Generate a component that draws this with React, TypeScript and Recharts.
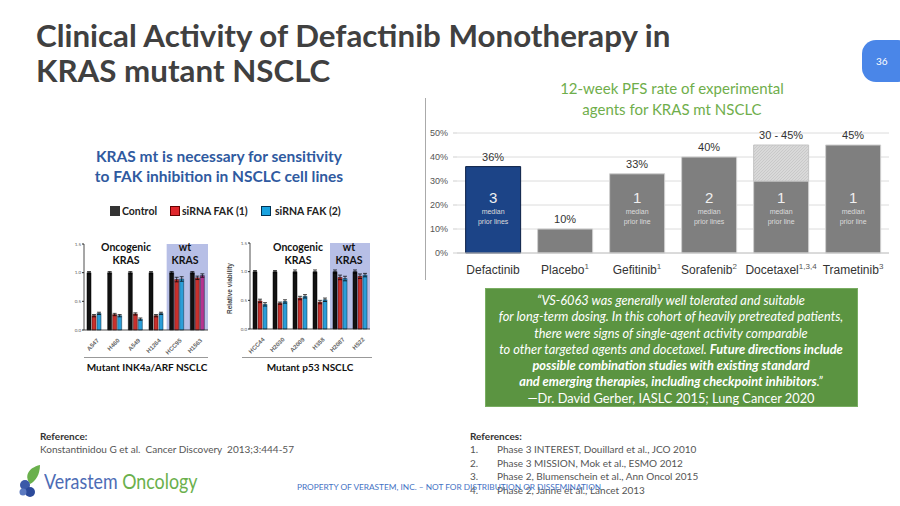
import React from "react";
import {
  BarChart,
  Bar,
  XAxis,
  YAxis,
  CartesianGrid,
  Cell,
  LabelList,
  ErrorBar,
  ReferenceArea,
} from "recharts";

// ---------- Main chart data ----------
const agents = ["Defactinib", "Placebo", "Gefitinib", "Sorafenib", "Docetaxel", "Trametinib"];
const agentRefs = ["", "1", "1", "2", "1,3,4", "3"];
const pfsBase = [36, 10, 33, 40, 30, 45];
const pfsRangeExtra = [0, 0, 0, 0, 15, 0];
const pfsLabels = ["36%", "10%", "33%", "40%", "30 - 45%", "45%"];
const priorLines: (number | null)[] = [3, null, 1, 2, 1, 1];
const pfsTicks = [0, 10, 20, 30, 40, 50];

// ---------- Small charts data ----------
const inkLines = ["A547", "H460", "A549", "H1264", "HCC95", "H1563"];
const inkControl = [1.0, 1.0, 1.0, 1.0, 1.0, 1.0];
const inkSi1 = [0.25, 0.27, 0.28, 0.25, 0.88, 0.91];
const inkSi2 = [0.29, 0.25, 0.19, 0.29, 0.89, 0.95];
const inkErrC = [0.02, 0.02, 0.02, 0.02, 0.02, 0.02];
const inkErr1 = [0.02, 0.02, 0.02, 0.02, 0.04, 0.03];
const inkErr2 = [0.02, 0.02, 0.02, 0.02, 0.04, 0.03];

const p53Lines = ["HCC44", "H2030", "A2009", "H358", "H2087", "H522"];
const p53Control = [1.0, 1.0, 1.0, 1.0, 1.0, 1.0];
const p53Si1 = [0.49, 0.45, 0.54, 0.47, 0.9, 0.92];
const p53Si2 = [0.43, 0.48, 0.57, 0.51, 0.88, 0.94];
const p53ErrC = [0.02, 0.02, 0.03, 0.03, 0.03, 0.03];
const p53Err1 = [0.03, 0.02, 0.03, 0.03, 0.04, 0.04];
const p53Err2 = [0.03, 0.03, 0.03, 0.03, 0.04, 0.03];
const viabilityTicks = [0, 0.5, 1.0, 1.5];

const pfsData = agents.map((a, i) => ({ name: a, base: pfsBase[i], extra: pfsRangeExtra[i] }));
const inkData = inkLines.map((n, i) => ({
  name: n, c: inkControl[i], s1: inkSi1[i], s2: inkSi2[i], ec: inkErrC[i], e1: inkErr1[i], e2: inkErr2[i],
}));
const p53Data = p53Lines.map((n, i) => ({
  name: n, c: p53Control[i], s1: p53Si1[i], s2: p53Si2[i], ec: p53ErrC[i], e1: p53Err1[i], e2: p53Err2[i],
}));

const CAL = "Lato, 'Open Sans', sans-serif";
const ARIAL = "'Liberation Sans', Arial, sans-serif";

const AgentTick = (props: any) => {
  const { x, y, payload, index } = props;
  return (
    <text x={x} y={y + 19} textAnchor="middle" fontSize={12} fill="#333" fontFamily={ARIAL}>
      {payload.value}
      <tspan fontSize={8} dy={-5} fill="#555">{agentRefs[index]}</tspan>
    </text>
  );
};

// top label drawn from the base bar; lifted above the range segment using the bar's own px-per-unit
const TopLabel = (props: any) => {
  const { x, y, width, height, index } = props;
  const pxPerUnit = height / pfsBase[index];
  const top = y - pxPerUnit * pfsRangeExtra[index];
  return (
    <text x={x + width / 2} y={top - 6} textAnchor="middle" fontSize={11} fill="#333" fontFamily={ARIAL}>
      {pfsLabels[index]}
    </text>
  );
};

const InsideLabel = (props: any) => {
  const { x, y, width, height, index } = props;
  const n = priorLines[index];
  if (n == null) return null;
  const cx = x + width / 2;
  const bottom = y + height;
  return (
    <g fontFamily={ARIAL} textAnchor="middle">
      <text x={cx} y={bottom - 50} fontSize={15} fill="#f0f0f0">{n}</text>
      <text x={cx} y={bottom - 39} fontSize={7} fill="#dcdcdc">median</text>
      <text x={cx} y={bottom - 29} fontSize={7} fill="#dcdcdc">{n === 1 ? "prior line" : "prior lines"}</text>
    </g>
  );
};

const CellTick = (props: any) => {
  const { x, y, payload } = props;
  const tx = x + 5;
  const ty = y + 3;
  return (
    <text x={tx} y={ty} transform={`rotate(-45 ${tx} ${ty})`} textAnchor="end" fontSize={6} fontWeight={700} fill="#666" fontFamily={ARIAL}>
      {payload.value}
    </text>
  );
};

const SmallChart = ({ data, left, top, width, lastPurple }: any) => (
  <div style={{ position: "absolute", left, top }}>
    <BarChart width={width} height={134} data={data} margin={{ top: 14, right: 2, left: 0, bottom: 10 }} barSize={4} barGap={1}>
      <ReferenceArea x1={data[4].name} x2={data[5].name} fill="#b7bfe6" fillOpacity={1} stroke="none" ifOverflow="visible" />
      <XAxis dataKey="name" height={24} tick={<CellTick />} tickLine={false} axisLine={{ stroke: "#222", strokeWidth: 0.8 }} interval={0} />
      <YAxis width={24} domain={[0, 1.5]} ticks={viabilityTicks} tickFormatter={(v: number) => v.toFixed(1)} tick={{ fontSize: 4.5, fill: "#555" }} tickSize={2} tickMargin={1} axisLine={{ stroke: "#222", strokeWidth: 0.8 }} tickLine={{ stroke: "#222" }} />
      <Bar dataKey="c" fill="#111" stroke="#000" strokeWidth={0.5} isAnimationActive={false}>
        <ErrorBar dataKey="ec" width={2} stroke="#000" strokeWidth={0.7} />
      </Bar>
      <Bar dataKey="s1" fill="#c9302c" stroke="#3a0a0a" strokeWidth={0.5} isAnimationActive={false}>
        <ErrorBar dataKey="e1" width={2} stroke="#000" strokeWidth={0.7} />
      </Bar>
      <Bar dataKey="s2" fill="#2b9ed8" stroke="#0b2f45" strokeWidth={0.5} isAnimationActive={false}>
        {data.map((_: any, i: number) => (
          <Cell key={i} fill={lastPurple && i === data.length - 1 ? "#b5338f" : "#2b9ed8"} />
        ))}
        <ErrorBar dataKey="e2" width={2} stroke="#000" strokeWidth={0.7} />
      </Bar>
    </BarChart>
  </div>
);

const T = ({ x, y, children, style, w, align }: any) => (
  <div
    style={{
      position: "absolute",
      left: align === "center" ? x - (w || 400) / 2 : x,
      top: y,
      width: align === "center" ? w || 400 : undefined,
      textAlign: align || "left",
      whiteSpace: "nowrap",
      ...style,
    }}
  >
    {children}
  </div>
);

export default function App() {
  return (
    <div style={{ position: "absolute", left: 0, top: 0, width: 900, height: 506, background: "#fff", overflow: "hidden", fontFamily: CAL }}>
      {/* Title */}
      <div style={{ position: "absolute", left: 36, top: 18, fontSize: 31.3, fontWeight: 700, color: "#404040", lineHeight: "35px" }}>
        Clinical Activity of Defactinib Monotherapy in
        <br />
        KRAS mutant NSCLC
      </div>
      {/* page number */}
      <div style={{ position: "absolute", left: 862, top: 40, width: 50, height: 42, borderRadius: 14, background: "#4a86e8" }} />
      <T x={876} y={54} style={{ fontSize: 10, color: "#fff", lineHeight: "14px" }}>36</T>

      {/* Left subheading */}
      <T x={219} y={146} w={340} align="center" style={{ fontSize: 15.5, fontWeight: 700, color: "#2f5aa0", lineHeight: "20px" }}>
        KRAS mt is necessary for sensitivity
        <br />
        to FAK inhibition in NSCLC cell lines
      </T>

      {/* Legend */}
      <div style={{ position: "absolute", left: 110, top: 206, width: 10, height: 10, background: "#333" }} />
      <T x={122} y={204} style={{ fontSize: 10.5, fontWeight: 700, color: "#222", lineHeight: "14px" }}>Control</T>
      <div style={{ position: "absolute", left: 170, top: 206, width: 10, height: 10, background: "#e0262c", border: "0.5px solid #600", boxSizing: "border-box" }} />
      <T x={182} y={204} style={{ fontSize: 10.5, fontWeight: 700, color: "#222", lineHeight: "14px" }}>siRNA FAK (1)</T>
      <div style={{ position: "absolute", left: 261, top: 206, width: 10, height: 10, background: "#1aa3e0", border: "0.5px solid #035", boxSizing: "border-box" }} />
      <T x={275} y={204} style={{ fontSize: 10.5, fontWeight: 700, color: "#222", lineHeight: "14px" }}>siRNA FAK (2)</T>

      {/* Small charts */}
      <SmallChart data={inkData} left={60} top={230} width={150} lastPurple />
      <SmallChart data={p53Data} left={226} top={229} width={146} />

      <T x={126} y={241} w={80} align="center" style={{ fontSize: 10.5, fontWeight: 700, color: "#111", lineHeight: "13px" }}>
        Oncogenic
        <br />
        KRAS
      </T>
      <T x={185} y={241} w={60} align="center" style={{ fontSize: 10.5, fontWeight: 700, color: "#111", lineHeight: "13px" }}>
        wt
        <br />
        KRAS
      </T>
      <T x={298} y={241} w={80} align="center" style={{ fontSize: 10.5, fontWeight: 700, color: "#111", lineHeight: "13px" }}>
        Oncogenic
        <br />
        KRAS
      </T>
      <T x={349} y={241} w={60} align="center" style={{ fontSize: 10.5, fontWeight: 700, color: "#111", lineHeight: "13px" }}>
        wt
        <br />
        KRAS
      </T>
      <div style={{ position: "absolute", left: 222, top: 285, transform: "rotate(-90deg)", transformOrigin: "center", width: 60, marginLeft: -23, textAlign: "center", fontSize: 6.5, fontWeight: 700, color: "#444", fontFamily: ARIAL }}>
        Relative viability
      </div>

      <div style={{ position: "absolute", left: 84, top: 357, width: 124, height: 1, background: "#999" }} />
      <div style={{ position: "absolute", left: 242, top: 357, width: 130, height: 1, background: "#999" }} />
      <T x={147} y={361} w={200} align="center" style={{ fontSize: 10, fontWeight: 700, color: "#111", lineHeight: "13px" }}>Mutant INK4a/ARF NSCLC</T>
      <T x={310} y={361} w={200} align="center" style={{ fontSize: 10, fontWeight: 700, color: "#111", lineHeight: "13px" }}>Mutant p53 NSCLC</T>

      {/* Divider */}
      <div style={{ position: "absolute", left: 425, top: 98, width: 1, height: 182, background: "#aaa" }} />

      {/* Right chart title */}
      <T x={672} y={78} w={360} align="center" style={{ fontSize: 15, color: "#6fae4b", lineHeight: "21px" }}>
        12-week PFS rate of experimental
        <br />
        agents for KRAS mt NSCLC
      </T>

      {/* Main chart */}
      <div style={{ position: "absolute", left: 420, top: 120 }}>
        <BarChart width={475} height={165} data={pfsData} margin={{ top: 13, right: 6, left: 0, bottom: 7 }} barCategoryGap="12%">
          <defs>
            <pattern id="hatch" width="3" height="3" patternUnits="userSpaceOnUse">
              <rect width="3" height="3" fill="#d9d9d9" />
              <path d="M0,3 L3,0" stroke="#c2c2c2" strokeWidth="0.7" />
            </pattern>
          </defs>
          <CartesianGrid vertical={false} stroke="#dcdcdc" />
          <XAxis dataKey="name" height={25} tick={<AgentTick />} tickLine={false} tickSize={0} axisLine={{ stroke: "#c8c8c8" }} interval={0} />
          <YAxis width={37} domain={[0, 50]} ticks={pfsTicks} tickFormatter={(v: number) => `${v}%`} tick={{ fontSize: 9, fill: "#555", fontFamily: ARIAL }} tickSize={4} tickMargin={5} axisLine={false} tickLine={{ stroke: "#cfcfcf" }} />
          <Bar dataKey="base" stackId="pfs" isAnimationActive={false}>
            {pfsData.map((_, i) => (
              <Cell key={i} fill={i === 0 ? "#1c4487" : "#7f7f7f"} stroke={i === 0 ? "#0b1f45" : "#cfcfcf"} strokeWidth={1} />
            ))}
            <LabelList dataKey="base" content={<InsideLabel />} />
            <LabelList dataKey="base" content={<TopLabel />} />
          </Bar>
          <Bar dataKey="extra" stackId="pfs" fill="url(#hatch)" stroke="#c4c4c4" isAnimationActive={false} />
        </BarChart>
      </div>

      {/* Quote box */}
      <div style={{ position: "absolute", left: 485, top: 288, width: 373, height: 119, background: "#5b9441", boxSizing: "border-box", border: "1px solid #79ad62" }} />
      <T x={671} y={292} w={373} align="center" style={{ fontSize: 12.8, color: "#fff", lineHeight: "16.3px", fontStyle: "italic" }}>
        “VS-6063 was generally well tolerated and suitable
        <br />
        for long-term dosing. In this cohort of heavily pretreated patients,
        <br />
        there were signs of single-agent activity comparable
        <br />
        to other targeted agents and docetaxel. <b>Future directions include</b>
        <br />
        <b>possible combination studies with existing standard</b>
        <br />
        <b>and emerging therapies, including checkpoint inhibitors</b>.”
        <br />
        <span style={{ fontStyle: "normal" }}>—Dr. David Gerber, IASLC 2015; Lung Cancer 2020</span>
      </T>

      {/* References */}
      <T x={40} y={429} style={{ fontSize: 10, fontWeight: 700, color: "#333", lineHeight: "14px" }}>Reference:</T>
      <T x={40} y={442} style={{ fontSize: 10, color: "#555", lineHeight: "14px" }}>Konstantinidou G et al.&nbsp; Cancer Discovery&nbsp; 2013;3:444-57</T>
      <T x={470} y={429} style={{ fontSize: 10, fontWeight: 700, color: "#333", lineHeight: "14px" }}>References:</T>
      {[
        "Phase 3 INTEREST, Douillard et al., JCO 2010",
        "Phase 3 MISSION, Mok et al., ESMO 2012",
        "Phase 2, Blumenschein et al., Ann Oncol 2015",
        "Phase 2, Janne et al., Lancet 2013",
      ].map((r, i) => (
        <React.Fragment key={i}>
          <T x={470} y={442 + i * 13.7} style={{ fontSize: 10, color: "#555", lineHeight: "14px" }}>{i + 1}.</T>
          <T x={497} y={442 + i * 13.7} style={{ fontSize: 10, color: "#555", lineHeight: "14px" }}>{r}</T>
        </React.Fragment>
      ))}

      {/* Footer */}
      <T x={297} y={481} style={{ fontSize: 8.3, color: "#4472c4", lineHeight: "12px" }}>
        PROPERTY OF VERASTEM, INC. – NOT FOR DISTRIBUTION OR DISSEMINATION
      </T>
      {/* Logo */}
      <svg style={{ position: "absolute", left: 18, top: 464 }} width={26} height={34}>
        <path d="M12 20 C 6 12, 10 4, 22 1 C 22 10, 18 17, 12 20 Z" fill="#6ab04c" />
        <circle cx={7} cy={21} r={5} fill="#3b5aa8" />
        <circle cx={12} cy={28} r={5} fill="#2c4a9a" />
        <circle cx={5} cy={28} r={3.5} fill="#5b79c0" />
      </svg>
      <T x={44} y={468} style={{ fontSize: 21, color: "#4d6cb5", lineHeight: "26px", transform: "scaleX(0.85)", transformOrigin: "left center" }}>
        Verastem <span style={{ color: "#6ab04c" }}>Oncology</span>
      </T>
    </div>
  );
}
